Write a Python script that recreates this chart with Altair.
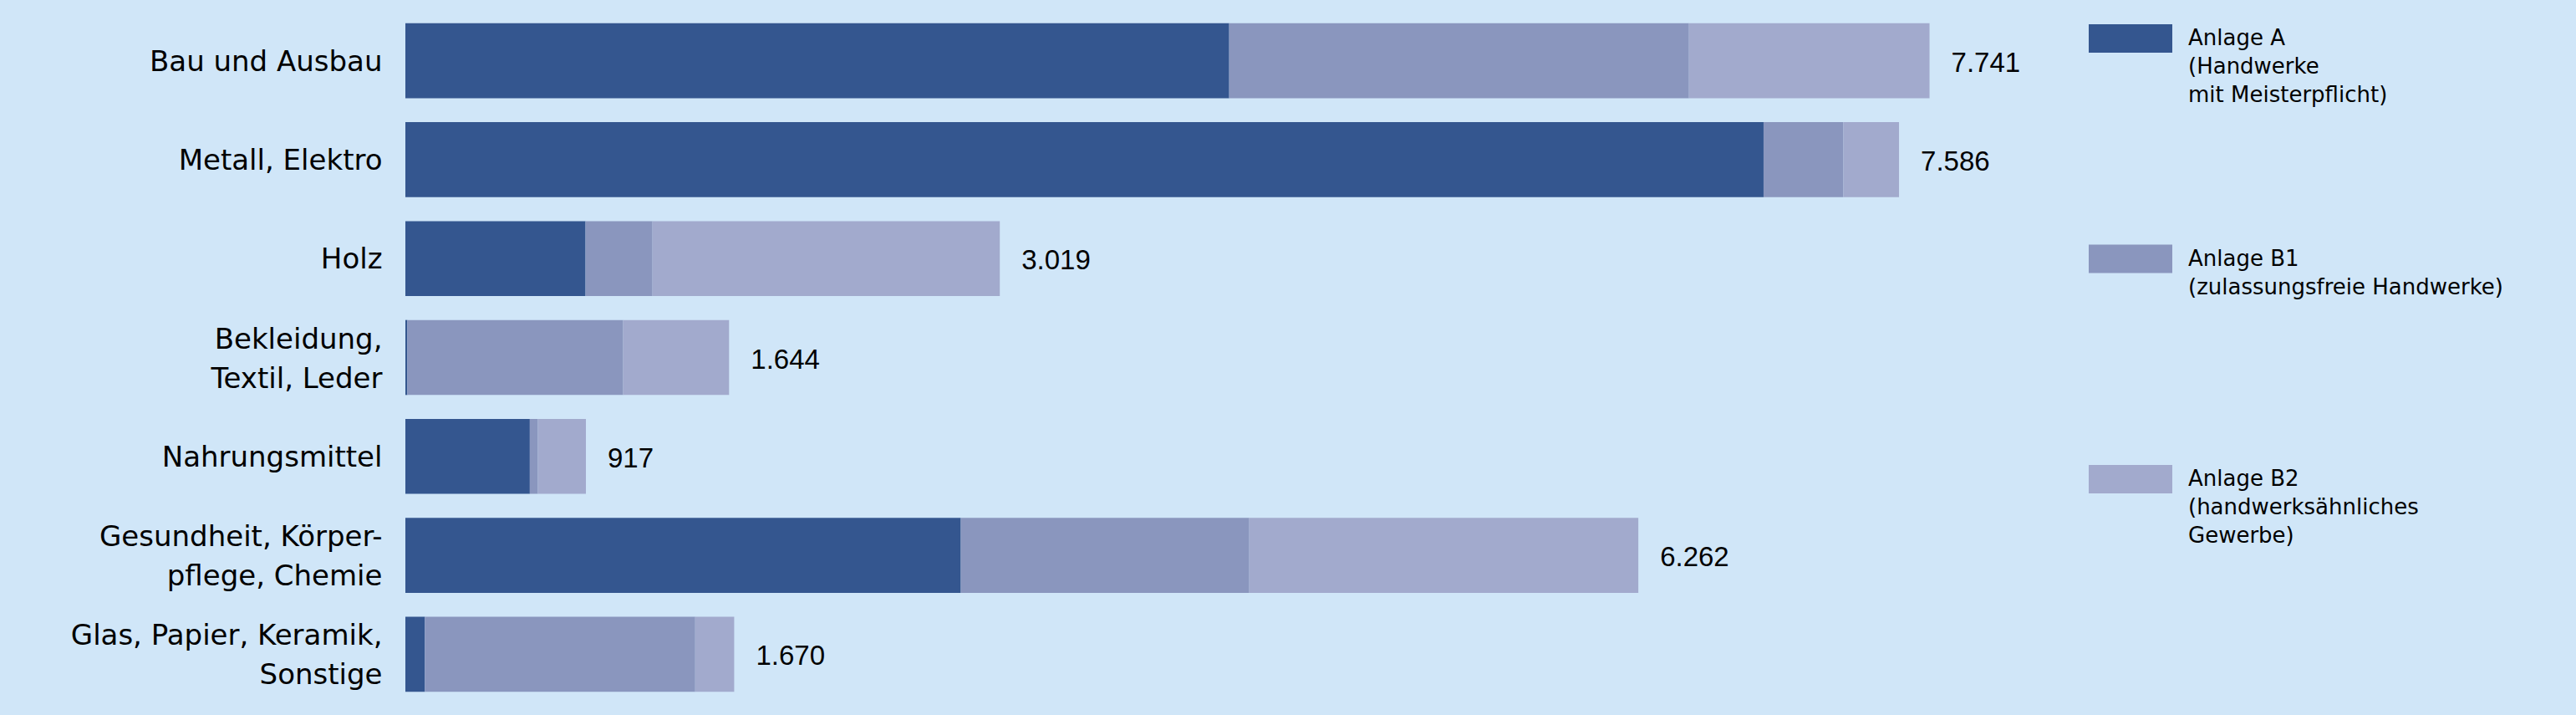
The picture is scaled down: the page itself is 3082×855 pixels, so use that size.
import altair as alt
import pandas as pd

categories = [
    "Bau und Ausbau",
    "Metall, Elektro",
    "Holz",
    "Bekleidung,|Textil, Leder",
    "Nahrungsmittel",
    "Gesundheit, Körper-|pflege, Chemie",
    "Glas, Papier, Keramik,|Sonstige",
]
series = ["Anlage A", "Anlage B1", "Anlage B2"]
legend_labels = [
    "Anlage A\n(Handwerke\nmit Meisterpflicht)",
    "Anlage B1\n(zulassungsfreie Handwerke)",
    "Anlage B2\n(handwerksähnliches\nGewerbe)",
]
colors = ["#34568f", "#8a96be", "#a2aacd"]

anlage_a = [4184, 6898, 915, 10, 632, 2821, 99]
anlage_b1 = [2335, 405, 340, 1096, 41, 1465, 1373]
anlage_b2 = [1222, 283, 1764, 538, 244, 1976, 198]
totals = [7741, 7586, 3019, 1644, 917, 6262, 1670]

rows = []
for i, c in enumerate(categories):
    for j, (s, vals) in enumerate(zip(series, [anlage_a, anlage_b1, anlage_b2])):
        rows.append({"cat": c, "series": s, "value": vals[i], "idx": j})
df = pd.DataFrame(rows)

tot_df = pd.DataFrame({
    "cat": categories,
    "total": totals,
    "label": [f"{t:,}".replace(",", ".") for t in totals],
})

leg_df = pd.DataFrame({"series": series, "text": legend_labels})

BG = "#d0e6f8"

y_enc = alt.Y(
    "cat:N",
    sort=categories,
    scale=alt.Scale(paddingInner=0.242, paddingOuter=0.235),
    axis=alt.Axis(
        title=None,
        ticks=False,
        domain=False,
        grid=False,
        labelExpr="split(datum.label, '|')",
        labelFont="DejaVu Sans",
        labelFontSize=34,
        labelColor="#000000",
        labelPadding=28,
        labelLineHeight=47,
        labelLimit=1000,
        labelOffset={"expr": "indexof(datum.value, '|') >= 0 ? -21 : 2"},
        minExtent=485,
        maxExtent=485,
    ),
)

x_scale = alt.Scale(domain=[0, 8490], nice=False, zero=True)

bars = alt.Chart(df).mark_bar().encode(
    y=y_enc,
    x=alt.X("value:Q", stack="zero", scale=x_scale, axis=None),
    color=alt.Color(
        "series:N",
        scale=alt.Scale(domain=series, range=colors),
        legend=None,
    ),
    order=alt.Order("idx:Q", sort="ascending"),
)

texts = alt.Chart(tot_df).mark_text(
    align="left",
    baseline="middle",
    dx=26,
    dy=3,
    font="Liberation Sans",
    fontSize=33,
    color="#000000",
).encode(
    y=alt.Y("cat:N", sort=categories),
    x=alt.X("total:Q", scale=x_scale, axis=None),
    text="label:N",
)

main = alt.layer(bars, texts).properties(width=2000, height=855)

leg_y = alt.Y(
    "series:N",
    sort=series,
    scale=alt.Scale(type="point", domain=series, range=[46, 573], padding=0),
    axis=None,
)

leg_sym = alt.Chart(leg_df).mark_point(
    shape="M-1,-0.34H1V0.34H-1Z",
    size=10000,
    filled=True,
    opacity=1,
    strokeWidth=0,
).encode(
    x=alt.value(50),
    y=leg_y,
    color=alt.Color(
        "series:N",
        scale=alt.Scale(domain=series, range=colors),
        legend=None,
    ),
)

leg_txt = alt.Chart(leg_df).mark_text(
    align="left",
    baseline="top",
    dy=-13,
    lineBreak="\n",
    lineHeight=34,
    font="DejaVu Sans",
    fontSize=26,
    color="#000000",
).encode(
    x=alt.value(119),
    y=leg_y,
    text="text:N",
)

legend = alt.layer(leg_sym, leg_txt).properties(width=583, height=855)

chart = alt.hconcat(main, legend, spacing=14).properties(
    background=BG,
    padding=0,
).configure_view(stroke=None, strokeWidth=0)

chart.save("out.html", embed_options={"renderer": "svg", "actions": False})
